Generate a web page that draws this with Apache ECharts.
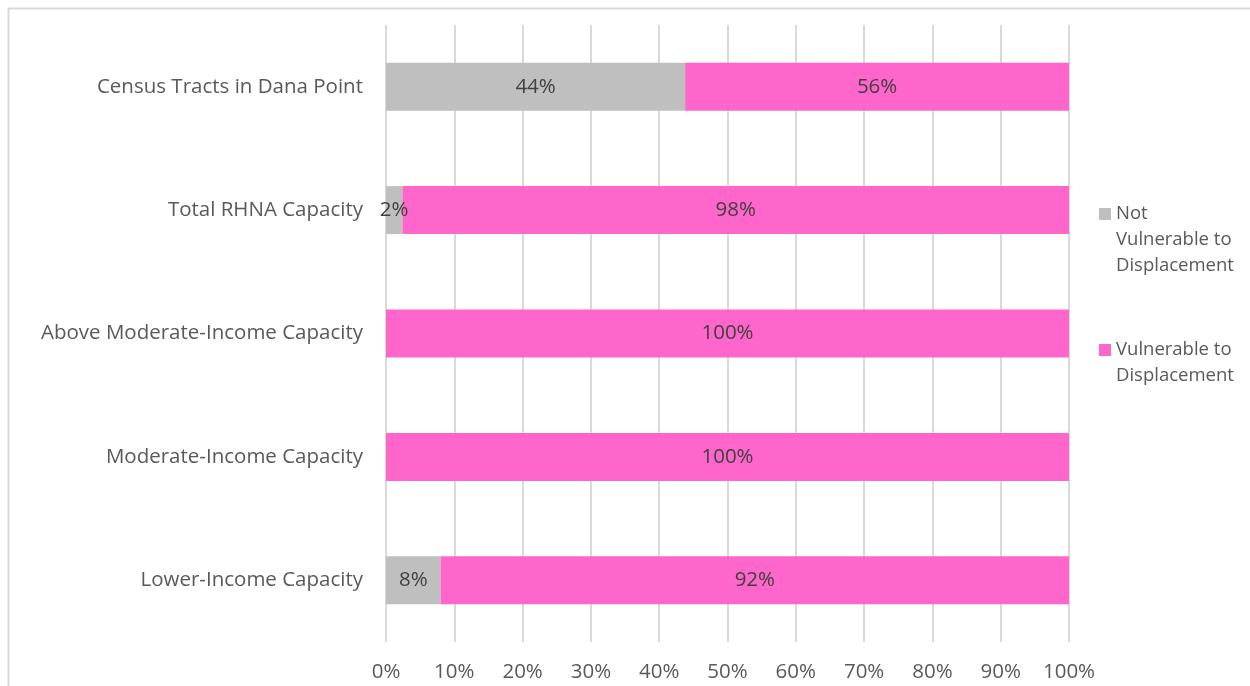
<!DOCTYPE html>
<html>
<head>
<meta charset="utf-8">
<script src="https://cdn.jsdelivr.net/npm/echarts@6/dist/echarts.min.js"></script>
<style>html,body{margin:0;padding:0;background:#fff}#c{width:1250px;height:686px}</style>
</head>
<body>
<div id="c"></div>
<script>
const categories = ['Census Tracts in Dana Point', 'Total RHNA Capacity', 'Above Moderate-Income Capacity', 'Moderate-Income Capacity', 'Lower-Income Capacity'];
const notVulnerable = [43.8, 2.4, 0, 0, 8.0];
const vulnerable = [56.2, 97.6, 100, 100, 92.0];
const seriesNames = ['Not Vulnerable to Displacement', 'Vulnerable to Displacement'];
const legendLines = [['Not', 'Vulnerable to', 'Displacement'], ['Vulnerable to', 'Displacement']];
const xTicks = [0, 10, 20, 30, 40, 50, 60, 70, 80, 90, 100];

const FONT = 'Open Sans';
const chart = echarts.init(document.getElementById('c'));
const lbl = {
  show: true, position: 'inside', color: '#404040', fontSize: 20.5, fontFamily: FONT,
  formatter: p => p.value > 0 ? Math.round(p.value) + '%' : ''
};
// prepend blank lines so the legend icon sits on the first text line
const legendText = lines => new Array(lines.length - 1).fill('').concat(lines).join('\n');
const legendCommon = {
  orient: 'vertical', left: 1094, itemWidth: 12, itemHeight: 12, itemGap: 0, icon: 'rect',
  textStyle: { color: '#595959', fontSize: 18.5, fontFamily: FONT, lineHeight: 26 }
};
chart.setOption({
  animation: false,
  textStyle: { fontFamily: FONT },
  graphic: [{
    type: 'rect', left: 6, top: 6, silent: true,
    shape: { x: 0, y: 0, width: 1400, height: 800 },
    style: { fill: 'none', stroke: '#d9d9d9', lineWidth: 2 }
  }],
  grid: { left: 386, right: 181, top: 25, bottom: 44, containLabel: false },
  xAxis: {
    type: 'value', min: 0, max: 100, interval: 10,
    axisLine: { show: false }, axisTick: { show: false },
    splitLine: { show: true, lineStyle: { color: '#d9d9d9', width: 2 } },
    axisLabel: { color: '#595959', fontSize: 20.5, fontFamily: FONT, margin: 20,
      formatter: v => xTicks.includes(v) ? v + '%' : '' }
  },
  yAxis: {
    type: 'category', data: categories, inverse: true,
    axisLine: { show: false }, axisTick: { show: false },
    axisLabel: { color: '#595959', fontSize: 20.5, fontFamily: FONT, margin: 23 }
  },
  legend: [
    Object.assign({}, legendCommon, { top: 144, data: [seriesNames[0]], formatter: () => legendText(legendLines[0]) }),
    Object.assign({}, legendCommon, { top: 306, data: [seriesNames[1]], formatter: () => legendText(legendLines[1]) })
  ],
  series: [{
    name: seriesNames[0], type: 'bar', stack: 'total', data: notVulnerable, barWidth: 48,
    itemStyle: { color: '#bfbfbf' }, label: lbl
  }, {
    name: seriesNames[1], type: 'bar', stack: 'total', data: vulnerable, barWidth: 48,
    itemStyle: { color: '#ff66cc' }, label: lbl
  }]
});
</script>
</body>
</html>
